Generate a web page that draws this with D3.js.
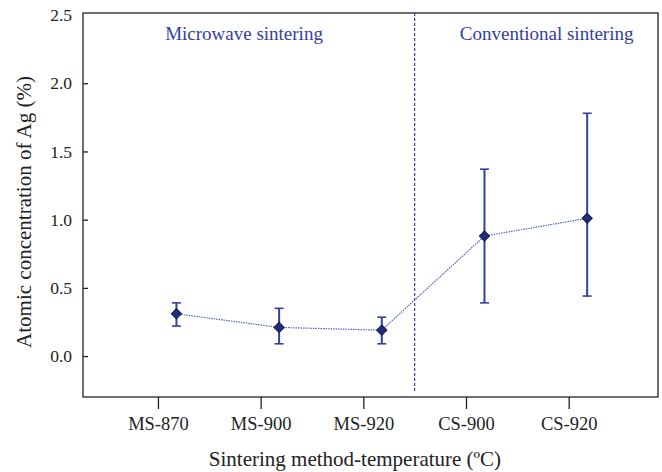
<!DOCTYPE html>
<html lang="en">
<head>
    <meta charset="utf-8">
    <title>Atomic concentration of Ag</title>
    <script src="https://d3js.org/d3.v7.min.js"></script>
    <style>
        body { margin: 0; background: #fff; }
        svg { display: block; font-family: "Liberation Serif", "DejaVu Serif", serif; }
    </style>
</head>
<body>
<script>
    // data
    var categories = ["MS-870", "MS-900", "MS-920", "CS-900", "CS-920"];
    var values = [0.31, 0.21, 0.19, 0.88, 1.01];
    var errLow = [0.22, 0.09, 0.09, 0.39, 0.44];
    var errHigh = [0.39, 0.35, 0.285, 1.37, 1.78];
    var yTicks = [0.0, 0.5, 1.0, 1.5, 2.0, 2.5];
    var regions = [{ name: "Microwave sintering", at: 0.07 }, { name: "Conventional sintering", at: 2.94 }];
    var divider = 2.5;

    var width = 662, height = 472;
    var mLeft = 83, mRight = 658, mTop = 13, mBottom = 397;
    var blue = "#3340a0";

    var svg = d3.select("body").append("svg")
        .attr("width", width)
        .attr("height", height);

    // category index on a linear scale, points drawn slightly right of the ticks
    var x = d3.scaleLinear().domain([-0.73, 4.87]).range([mLeft, mRight]);
    var y = d3.scaleLinear().domain([-0.3, 2.515]).range([mBottom, mTop]);
    var shift = 0.18;

    svg.append("rect")
        .attr("x", mLeft).attr("y", mTop)
        .attr("width", mRight - mLeft).attr("height", mBottom - mTop)
        .attr("fill", "none").attr("stroke", "#222").attr("stroke-width", 1.3);

    var xAxis = svg.append("g")
        .attr("transform", "translate(0," + mBottom + ")")
        .call(d3.axisBottom(x).tickValues(d3.range(categories.length))
            .tickFormat(function (i) { return categories[i]; })
            .tickSize(12).tickPadding(8));
    xAxis.select(".domain").remove();
    xAxis.selectAll("line").attr("stroke", "#222").attr("stroke-width", 1.3);
    xAxis.selectAll("text").attr("font-family", "Liberation Serif").attr("font-size", 18.5).attr("fill", "#222");

    var yAxis = svg.append("g")
        .attr("transform", "translate(" + mLeft + ",0)")
        .call(d3.axisLeft(y).tickValues(yTicks).tickFormat(d3.format(".1f"))
            .tickSizeInner(-5).tickSizeOuter(0).tickPadding(11));
    yAxis.select(".domain").remove();
    yAxis.selectAll("line").attr("stroke", "#222").attr("stroke-width", 1.3);
    yAxis.selectAll("text").attr("font-family", "Liberation Serif").attr("font-size", 17.5).attr("fill", "#222");
    yAxis.selectAll(".tick").filter(function (d) { return d === 2.5; }).select("line").remove();

    svg.append("text")
        .attr("x", 355).attr("y", 466)
        .attr("text-anchor", "middle")
        .attr("font-size", 21).attr("fill", "#222")
        .text("Sintering method-temperature (ºC)");

    svg.append("text")
        .attr("transform", "translate(31," + 212 + ") rotate(-90)")
        .attr("text-anchor", "middle")
        .attr("font-size", 21).attr("fill", "#222")
        .text("Atomic concentration of Ag (%)");

    // divider between methods
    svg.append("line")
        .attr("x1", x(divider)).attr("x2", x(divider))
        .attr("y1", mTop).attr("y2", mBottom - 5)
        .attr("stroke", blue).attr("stroke-width", 1.2)
        .attr("stroke-dasharray", "3,2");

    svg.selectAll(".region")
        .data(regions)
        .enter().append("text")
        .attr("class", "region")
        .attr("x", function (d) { return x(d.at); })
        .attr("y", 40)
        .attr("font-size", 19).attr("fill", blue)
        .text(function (d) { return d.name; });

    var rows = categories.map(function (c, i) {
        return { cat: c, i: i, v: values[i], lo: errLow[i], hi: errHigh[i] };
    });

    var line = d3.line()
        .x(function (d) { return x(d.i + shift); })
        .y(function (d) { return y(d.v); });

    svg.append("path")
        .datum(rows)
        .attr("d", line)
        .attr("fill", "none")
        .attr("stroke", "#5565c0")
        .attr("stroke-width", 1.2)
        .attr("stroke-dasharray", "1.5,1");

    var bars = svg.selectAll(".err")
        .data(rows)
        .enter().append("g")
        .attr("class", "err")
        .attr("stroke", blue).attr("stroke-width", 2);

    bars.append("line")
        .attr("x1", function (d) { return x(d.i + shift); })
        .attr("x2", function (d) { return x(d.i + shift); })
        .attr("y1", function (d) { return y(d.lo); })
        .attr("y2", function (d) { return y(d.hi); });

    bars.selectAll(".cap")
        .data(function (d) { return [d.lo, d.hi].map(function (v) { return { i: d.i, v: v }; }); })
        .enter().append("line")
        .attr("class", "cap")
        .attr("x1", function (d) { return x(d.i + shift) - 4.5; })
        .attr("x2", function (d) { return x(d.i + shift) + 4.5; })
        .attr("y1", function (d) { return y(d.v); })
        .attr("y2", function (d) { return y(d.v); })
        .attr("stroke-width", 1.6);

    svg.selectAll(".pt")
        .data(rows)
        .enter().append("path")
        .attr("class", "pt")
        .attr("d", d3.symbol().type(d3.symbolSquare).size(52))
        .attr("transform", function (d) {
            return "translate(" + x(d.i + shift) + "," + y(d.v) + ") rotate(45)";
        })
        .attr("fill", "#1f2d80")
        .attr("stroke", "#141b4d")
        .attr("stroke-width", 1);
</script>
</body>
</html>
